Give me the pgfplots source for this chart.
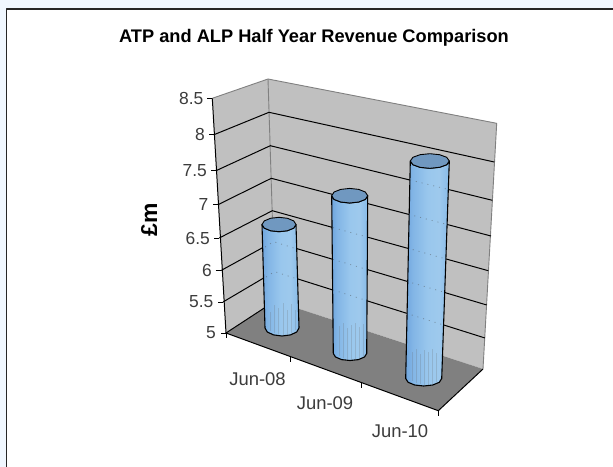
\documentclass[border=0pt]{standalone}
\usepackage{pgfplots}
\pgfplotsset{compat=1.18}
\usepackage{fontspec}
\setmainfont{Liberation Sans}
\definecolor{bgblue}{HTML}{F0F7FF}
\definecolor{wall}{HTML}{C0C0C0}
\definecolor{floorc}{HTML}{808080}
\definecolor{lab}{HTML}{3C3C3C}
\definecolor{captop}{HTML}{7098C0}
\pgfdeclarehorizontalshading{cyl}{100bp}{
 rgb(0bp)=(0.44,0.65,0.87);
 rgb(25bp)=(0.44,0.65,0.87);
 rgb(33bp)=(0.51,0.71,0.90);
 rgb(50bp)=(0.60,0.78,0.93);
 rgb(63bp)=(0.62,0.79,0.93);
 rgb(75bp)=(0.53,0.73,0.91);
 rgb(100bp)=(0.53,0.73,0.91)}
\newcommand{\tl}[3]{\node[anchor=east,inner sep=0pt,text=lab,font=\fontsize{17.5}{20}\selectfont] at (axis cs:#1,#2) {#3};}
\newcommand{\dl}[3]{\node[anchor=center,inner sep=0pt,text=lab,font=\fontsize{18.5}{20}\selectfont] at (axis cs:#1,#2) {#3};}
\begin{document}
\begin{tikzpicture}
\begin{axis}[
  scale only axis, width=613bp, height=467bp,
  xmin=0, xmax=613, ymin=0, ymax=467, y dir=reverse,
  hide axis, unbounded coords=jump,
  every axis plot/.append style={line join=round}]
% page
\addplot[fill=bgblue,draw=none] coordinates {(0,0)(613,0)(613,467)(0,467)} -- cycle;
\addplot[fill=white,draw=none] coordinates {(6,9)(613,9)(613,467)(6,467)} -- cycle;
\addplot[draw=black!85,line width=2pt] coordinates {(6.5,467)(6.5,9)(613,9)};
% walls and floor
\addplot[fill=wall,draw=none] coordinates {(212.3,98.3)(268,79)(275,301)(226,333)} -- cycle;
\addplot[fill=wall,draw=none] coordinates {(268,79)(496.7,123.3)(483,369)(275,301)} -- cycle;
\addplot[fill=floorc,draw=none] coordinates {(226,333)(275,301)(483,369)(438.3,410.7)} -- cycle;
\addplot[draw=floorc,line width=0.9pt] coordinates {(212.3,98.3)(268,79)(496.7,123.3)(483,369)};
\addplot[draw=floorc,line width=0.9pt] coordinates {(268,79)(275,301)};
% gridlines
\addplot[black,line width=1pt] coordinates {(214,134.7)(269,112.3)(494.3,162)};
\addplot[black,line width=1pt] coordinates {(216,170.7)(270.3,145.7)(492.3,200.3)};
\addplot[black,line width=1pt] coordinates {(218,204.7)(271.3,178.3)(491,236)};
\addplot[black,line width=1pt] coordinates {(219.3,238)(272.3,210.7)(488.3,270.7)};
\addplot[black,line width=1pt] coordinates {(220.7,270.7)(273.5,241.7)(486.7,305)};
\addplot[black,line width=1pt] coordinates {(223,302)(274.5,271.6)(485,338)};
% floor edges and axis lines
\addplot[black,line width=1pt] coordinates {(212.3,98.3)(226,333)(438.3,410.7)(483,369)};
\addplot[black,line width=1pt] coordinates {(226,333)(275,301)};
% cylinder bodies
\addplot[draw=black,line width=1.1pt,shade,shading=cyl] coordinates {(262,224.5)(264.3,228.1)(270.5,230.7)(279,231.7)(287.5,230.7)(293.7,228.1)(296,224.5)(299,328)(296.7,332)(290.5,334.9)(282,336)(273.5,334.9)(267.3,332)(265,328)} -- cycle;
\addplot[draw=black,line width=1.1pt,shade,shading=cyl] coordinates {(331.7,195.7)(334.1,199.4)(340.7,202)(349.7,203)(358.7,202)(365.3,199.4)(367.7,195.7)(366.7,353.5)(364.5,357)(358.4,359.6)(350,360.5)(341.6,359.6)(335.5,357)(333.3,353.5)} -- cycle;
\addplot[draw=black,line width=1.1pt,shade,shading=cyl] coordinates {(410.3,161)(412.9,164.7)(420,167.3)(429.8,168.3)(439.6,167.3)(446.7,164.7)(449.3,161)(441.7,378.5)(439.3,382.3)(432.7,385)(423.7,386)(414.7,385)(408.1,382.3)(405.7,378.5)} -- cycle;
% caps
\addplot[draw=black,line width=0.9pt,fill=captop] coordinates {(296,224.5)(293.7,228.1)(287.5,230.7)(279,231.7)(270.5,230.7)(264.3,228.1)(262,224.5)(264.3,220.9)(270.5,218.3)(279,217.3)(287.5,218.3)(293.7,220.9)} -- cycle;
\addplot[draw=black,line width=0.9pt,fill=captop] coordinates {(367.7,195.7)(365.3,199.4)(358.7,202)(349.7,203)(340.7,202)(334.1,199.4)(331.7,195.7)(334.1,192)(340.7,189.4)(349.7,188.4)(358.7,189.4)(365.3,192)} -- cycle;
\addplot[draw=black,line width=0.9pt,fill=captop] coordinates {(449.3,161)(446.7,164.7)(439.6,167.3)(429.8,168.3)(420,167.3)(412.9,164.7)(410.3,161)(412.9,157.3)(420,154.7)(429.8,153.7)(439.6,154.7)(446.7,157.3)} -- cycle;
% gridlines seen faintly through the cylinders
\addplot[black!70,opacity=0.45,line width=0.8pt,dash pattern=on 1pt off 5pt] coordinates {(265,247)(273.5,241.7)(297,249)};
\addplot[black!70,opacity=0.45,line width=0.8pt,dash pattern=on 1pt off 5pt] coordinates {(266,277)(274.5,271.6)(297.5,279)};
\addplot[black!70,opacity=0.45,line width=0.8pt,dash pattern=on 1pt off 5pt] coordinates {(333,227.6)(367,237)};
\addplot[black!70,opacity=0.45,line width=0.8pt,dash pattern=on 1pt off 5pt] coordinates {(333,259.4)(367,269.5)};
\addplot[black!70,opacity=0.45,line width=0.8pt,dash pattern=on 1pt off 5pt] coordinates {(333,290)(367,300.6)};
\addplot[black!70,opacity=0.45,line width=0.8pt,dash pattern=on 1pt off 5pt] coordinates {(410,180)(449,189.6)};
\addplot[black!70,opacity=0.45,line width=0.8pt,dash pattern=on 1pt off 5pt] coordinates {(408.5,214.3)(448,224.7)};
\addplot[black!70,opacity=0.45,line width=0.8pt,dash pattern=on 1pt off 5pt] coordinates {(407,248)(445,258.7)};
\addplot[black!70,opacity=0.45,line width=0.8pt,dash pattern=on 1pt off 5pt] coordinates {(406.5,281.2)(443,291.9)};
\addplot[black!70,opacity=0.45,line width=0.8pt,dash pattern=on 1pt off 5pt] coordinates {(406,313.2)(442,324.5)};
% faint vertical stripes low on the cylinders
\addplot[black!60,opacity=0.22,line width=0.7pt] coordinates {
 (270,312)(270,331) (270,nan) (274,305)(274,333) (274,nan) (278,308)(278,334) (278,nan)
 (283,303)(283,335) (283,nan) (287,310)(287,334) (287,nan) (291,304)(291,333) (291,nan) (295,310)(295,330)};
\addplot[black!60,opacity=0.22,line width=0.7pt] coordinates {
 (339,326)(339,356) (339,nan) (343,323)(343,358) (343,nan) (347,328)(347,359) (347,nan)
 (351,325)(351,360) (351,nan) (355,323)(355,359) (355,nan) (359,327)(359,358) (359,nan) (363,324)(363,356)};
\addplot[black!60,opacity=0.22,line width=0.7pt] coordinates {
 (412,352)(412,381) (412,nan) (416,349)(416,383) (416,nan) (420,354)(420,384) (420,nan)
 (424,350)(424,385) (424,nan) (428,352)(428,385) (428,nan) (432,349)(432,384) (432,nan) (436,353)(436,382)};
% y ticks
\addplot[black,line width=0.9pt] coordinates {(207,98.3)(212.3,98.3)};
\addplot[black,line width=0.9pt] coordinates {(209,134.7)(214,134.7)};
\addplot[black,line width=0.9pt] coordinates {(211,170.7)(216,170.7)};
\addplot[black,line width=0.9pt] coordinates {(213,204.7)(218,204.7)};
\addplot[black,line width=0.9pt] coordinates {(214.3,238)(219.3,238)};
\addplot[black,line width=0.9pt] coordinates {(215.7,270.7)(220.7,270.7)};
\addplot[black,line width=0.9pt] coordinates {(218,302)(223,302)};
\addplot[black,line width=0.9pt] coordinates {(221,333)(226,333)};
% x ticks
\addplot[black,line width=0.9pt] coordinates {(226,333)(226,338)};
\addplot[black,line width=0.9pt] coordinates {(290,357)(290,362)};
\addplot[black,line width=0.9pt] coordinates {(361.7,383)(361.7,388)};
\addplot[black,line width=0.9pt] coordinates {(438.7,411)(438.7,416)};
% text
\tl{203.5}{98.3}{8.5}
\tl{205}{134.7}{8}
\tl{207}{170.7}{7.5}
\tl{208.5}{204.7}{7}
\tl{210}{238}{6.5}
\tl{212}{270.7}{6}
\tl{213.5}{302}{5.5}
\tl{216}{333}{5}
\dl{257.5}{379}{Jun-08}
\dl{325}{402.7}{Jun-09}
\dl{400}{430.7}{Jun-10}
\node[rotate=90,inner sep=0pt,font=\fontsize{23}{25}\selectfont\bfseries,text=black] at (axis cs:149,220) {£m};
\node[anchor=base,inner sep=0pt,font=\fontsize{18.3}{20}\selectfont\bfseries,text=black] at (axis cs:314,43) {ATP and ALP Half Year Revenue Comparison};
\end{axis}
\end{tikzpicture}
\end{document}
